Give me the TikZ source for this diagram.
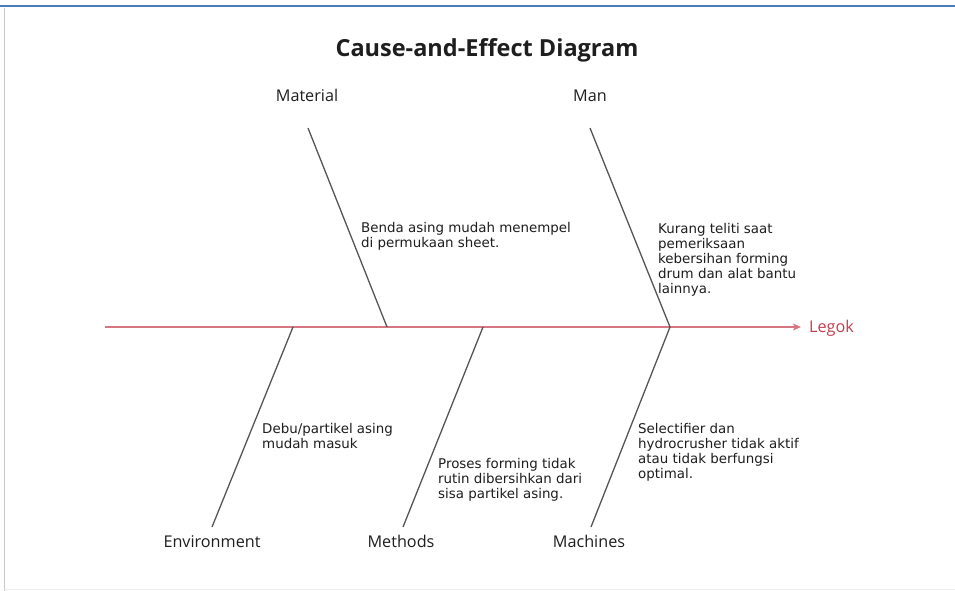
\documentclass[tikz,border=0pt]{standalone}
\usepackage{fontspec}
\setmainfont{Open Sans}
\newfontfamily\notefont{DejaVu Sans}
\usetikzlibrary{arrows.meta}
\definecolor{framegray}{RGB}{200,200,200}
\definecolor{topblue}{RGB}{74,126,187}
\definecolor{spinered}{RGB}{214,118,128}
\definecolor{legokred}{RGB}{196,62,80}
\definecolor{bonegray}{RGB}{85,85,85}
\definecolor{txt}{RGB}{30,30,30}
\tikzset{
  bone/.style={draw=bonegray, line width=1.3pt},
  spine/.style={draw=spinered, line width=1.6pt, -{Stealth[length=8pt,width=7pt,inset=2pt]}},
  catlabel/.style={anchor=base, inner sep=0pt, font=\fontsize{16.2}{19}\selectfont, text=txt},
  note/.style={anchor=north west, inner sep=0pt, align=left, text=txt,
    font=\notefont\fontsize{13.4}{15}\selectfont},
}
\begin{document}
\begin{tikzpicture}[x=1pt,y=-1pt]
\useasboundingbox (0,0) rectangle (955,591);
\fill[white] (0,0) rectangle (955,591);
% frame
\draw[topblue, line width=2pt] (0,6) -- (955,6);
\draw[framegray, line width=0.8pt] (4,8) -- (4,591);
\draw[black!8, line width=0.8pt] (4,589) -- (955,589);
% title
\node[anchor=base, inner sep=0pt, font=\bfseries\fontsize{23.5}{27}\selectfont, text=txt] (title) at (487,57) {Cause-and-Effect Diagram};
% spine
\coordinate (spineS) at (105,327);
\coordinate (spineE) at (801,327);
\draw[spine] (spineS) -- (spineE);
\node[anchor=base west, inner sep=0pt, text=legokred, font=\fontsize{16.2}{19}\selectfont] (legok) at (809,332) {Legok};
% joints on spine
\coordinate (jEnv) at (293,327);
\coordinate (jMat) at (387,327);
\coordinate (jMet) at (483,327);
\coordinate (jMan) at (670,327);
% bone ends
\coordinate (eMat) at (308,128);
\coordinate (eMan) at (590,128);
\coordinate (eEnv) at (212,527);
\coordinate (eMet) at (403,527);
\coordinate (eMac) at (591,527);
\draw[bone] (eMat) -- (jMat);
\draw[bone] (eMan) -- (jMan);
\draw[bone] (jEnv) -- (eEnv);
\draw[bone] (jMet) -- (eMet);
\draw[bone] (jMan) -- (eMac);
% category labels
\node[catlabel] (lMat) at (307,102) {Material};
\node[catlabel] (lMan) at (590,102) {Man};
\node[catlabel] (lEnv) at (212,547) {Environment};
\node[catlabel] (lMet) at (401,547) {Methods};
\node[catlabel] (lMac) at (589,547) {Machines};
% causes
\node[note] (cMat) at (361,222) {Benda asing mudah menempel\\di permukaan sheet.};
\node[note] (cMan) at (658,223) {Kurang teliti saat\\pemeriksaan\\kebersihan forming\\drum dan alat bantu\\lainnya.};
\node[note] (cEnv) at (262,423) {Debu/partikel asing\\mudah masuk};
\node[note] (cMet) at (438,458) {Proses forming tidak\\rutin dibersihkan dari\\sisa partikel asing.};
\node[note] (cMac) at (638,423) {Selectifier dan\\hydrocrusher tidak aktif\\atau tidak berfungsi\\optimal.};
\end{tikzpicture}
\end{document}
